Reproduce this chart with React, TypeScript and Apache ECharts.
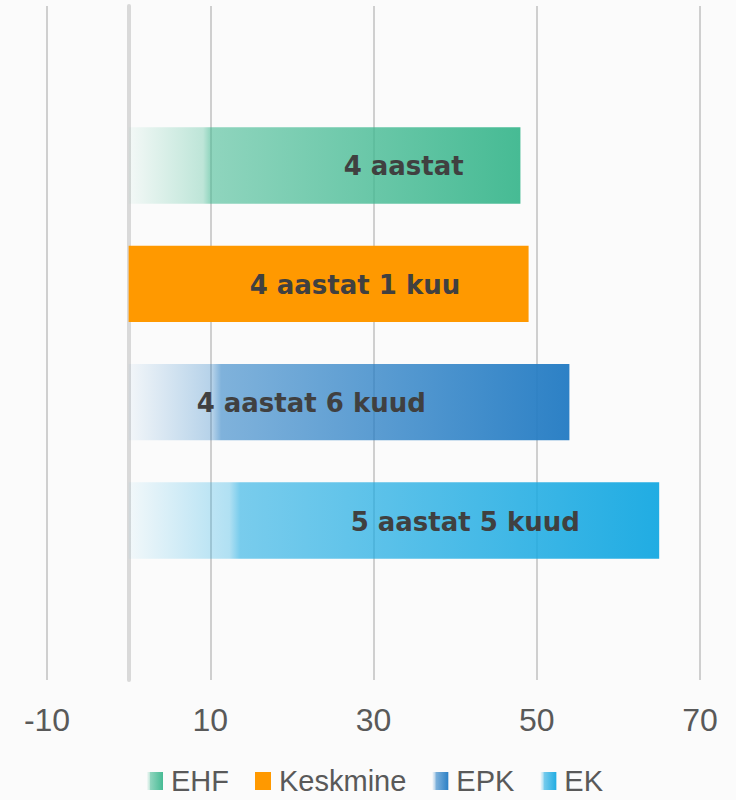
import React, { useEffect, useRef } from "react";
import * as echarts from "echarts";

const SERIES_NAMES = ["EHF", "Keskmine", "EPK", "EK"];
const VALUES = [48, 49, 54, 65];
const BAR_LABELS = ["4 aastat", "4 aastat 1 kuu", "4 aastat 6 kuud", "5 aastat 5 kuud"];
const TICKS = [-10, 10, 30, 50, 70];
const CATEGORIES = [""];

const COLORS = ["65,185,145", "255,153,0", "38,125,196", "26,170,226"];
const GRADIENT = [true, false, true, true];
const LABEL_OFFSETS = [215, 121, 68, 222];

function fill(i: number) {
  const c = COLORS[i];
  if (!GRADIENT[i]) return `rgb(${c})`;
  return new echarts.graphic.LinearGradient(0, 0, 1, 0, [
    { offset: 0, color: `rgba(${c},0.04)` },
    { offset: 0.19, color: `rgba(${c},0.33)` },
    { offset: 0.21, color: `rgba(${c},0.58)` },
    { offset: 1, color: `rgba(${c},0.97)` },
  ]);
}

export default function App() {
  const ref = useRef<HTMLDivElement>(null);
  useEffect(() => {
    if (!ref.current) return;
    document.body.style.margin = "0";
    const chart = echarts.init(ref.current, undefined, { renderer: "svg" });
    const barSeries = SERIES_NAMES.map((name, i) => ({
      name,
      type: "bar" as const,
      data: [VALUES[i]],
      z: 3,
      barGap: "55%",
      barCategoryGap: "36%",
      itemStyle: { color: fill(i) },
      label: {
        show: true,
        position: "insideLeft",
        distance: 0,
        offset: [LABEL_OFFSETS[i], 1],
        formatter: () => BAR_LABELS[i],
        fontFamily: "DejaVu Sans",
        fontWeight: "bold",
        fontSize: 26,
        color: "#404040",
      },
    }));
    chart.setOption({
      animation: false,
      backgroundColor: "#fbfbfb",
      grid: { left: 47, right: 36, top: 6, bottom: 120, containLabel: false },
      legend: {
        data: SERIES_NAMES,
        bottom: 2,
        left: 147,
        padding: 0,
        itemWidth: 16,
        itemHeight: 18,
        itemGap: 26,
        icon: "rect",
        textStyle: {
          fontFamily: "Liberation Sans, sans-serif",
          fontSize: 29,
          lineHeight: 34,
          color: "#595959",
          padding: [0, 0, 0, 3],
        },
      },
      xAxis: {
        type: "value",
        min: -10,
        max: 70,
        interval: 10,
        axisLine: { show: false },
        axisTick: { show: false },
        splitLine: { show: false },
        axisLabel: {
          margin: 24,
          fontFamily: "Liberation Sans, sans-serif",
          fontSize: 32,
          color: "#595959",
          formatter: (v: number) => (TICKS.includes(v) ? String(v) : ""),
        },
      },
      yAxis: {
        type: "category",
        data: CATEGORIES,
        axisTick: { show: false },
        axisLabel: { show: false },
        axisLine: { show: true, onZero: true, lineStyle: { color: "#d9d9d9", width: 4 } },
      },
      series: [
        {
          name: "grid",
          type: "line",
          data: [],
          z: 1,
          markLine: {
            silent: true,
            z: 1,
            symbol: "none",
            label: { show: false },
            lineStyle: { color: "#cfcfcf", width: 2, type: "solid" },
            data: TICKS.map((v) => ({ xAxis: v })),
          },
        },
        ...barSeries,
      ],
    });
    return () => chart.dispose();
  }, []);
  return <div ref={ref} style={{ position: "absolute", left: 0, top: 0, width: 736, height: 800 }} />;
}
